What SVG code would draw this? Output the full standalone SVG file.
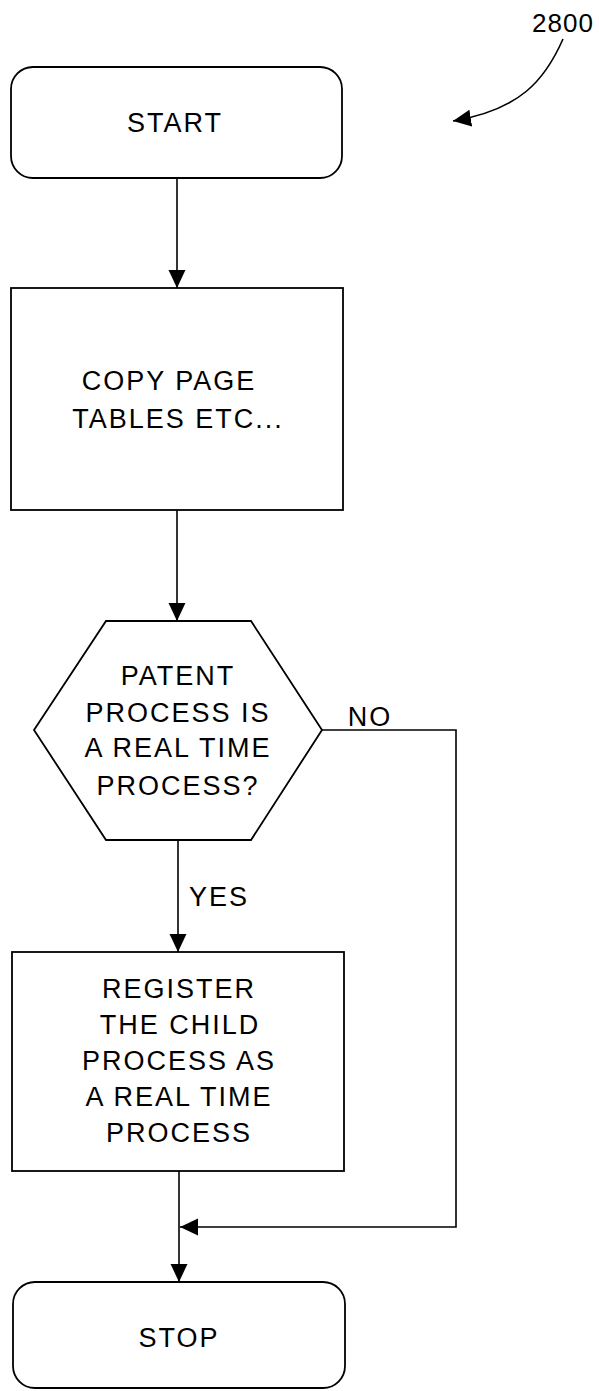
<svg xmlns="http://www.w3.org/2000/svg" width="599" height="1391" viewBox="0 0 599 1391">
<style>
.box{fill:#fff;stroke:#000;stroke-width:1.8}
.ln{fill:none;stroke:#000;stroke-width:1.6}
.t{font-family:"Liberation Sans",Arial,sans-serif;font-size:27px;letter-spacing:2px;fill:#000;text-anchor:middle}
</style>
<defs>
<marker id="ah" markerUnits="userSpaceOnUse" markerWidth="18" markerHeight="18" viewBox="0 0 17 16" refX="17" refY="8" orient="auto">
<path d="M0,0 L17,8 L0,16 Z" fill="#000"/>
</marker>
</defs>
<g id="connectors">
<line class="ln" x1="177" y1="178" x2="177" y2="288" marker-end="url(#ah)"/>
<line class="ln" x1="177" y1="510" x2="177" y2="621" marker-end="url(#ah)"/>
<line class="ln" x1="178" y1="840" x2="178" y2="952" marker-end="url(#ah)"/>
<text class="t" x="219" y="906">YES</text>
<polyline class="ln" points="322,730 456,730 456,1227 180,1227" marker-end="url(#ah)"/>
<text class="t" x="370" y="726">NO</text>
<line class="ln" x1="179" y1="1171" x2="179" y2="1282" marker-end="url(#ah)"/>
<path class="ln" d="M563,39 C545,80 520,110 453,121" marker-end="url(#ah)"/>
<text class="t" x="563" y="32" style="font-size:26px;letter-spacing:1px">2800</text>
</g>
<g id="start">
<rect class="box" x="11" y="67" width="331" height="111" rx="22"/>
<text class="t" x="175" y="132">START</text>
</g>
<g id="copy">
<rect class="box" x="11" y="288" width="332" height="222"/>
<text class="t" x="169" y="390">COPY PAGE</text>
<text class="t" x="178" y="428">TABLES ETC...</text>
</g>
<g id="decision">
<polygon class="box" points="106,621 251,621 322,730 251,840 106,840 34,730"/>
<text class="t" x="178" y="685">PATENT</text>
<text class="t" x="178" y="722">PROCESS IS</text>
<text class="t" x="178" y="757">A REAL TIME</text>
<text class="t" x="178" y="795">PROCESS?</text>
</g>
<g id="register">
<rect class="box" x="12" y="952" width="332" height="219"/>
<text class="t" x="179" y="998">REGISTER</text>
<text class="t" x="180" y="1034">THE CHILD</text>
<text class="t" x="179" y="1070">PROCESS AS</text>
<text class="t" x="179" y="1106">A REAL TIME</text>
<text class="t" x="179" y="1142">PROCESS</text>
</g>
<g id="stop">
<rect class="box" x="13" y="1282" width="332" height="106" rx="22"/>
<text class="t" x="179" y="1347">STOP</text>
</g>
</svg>
